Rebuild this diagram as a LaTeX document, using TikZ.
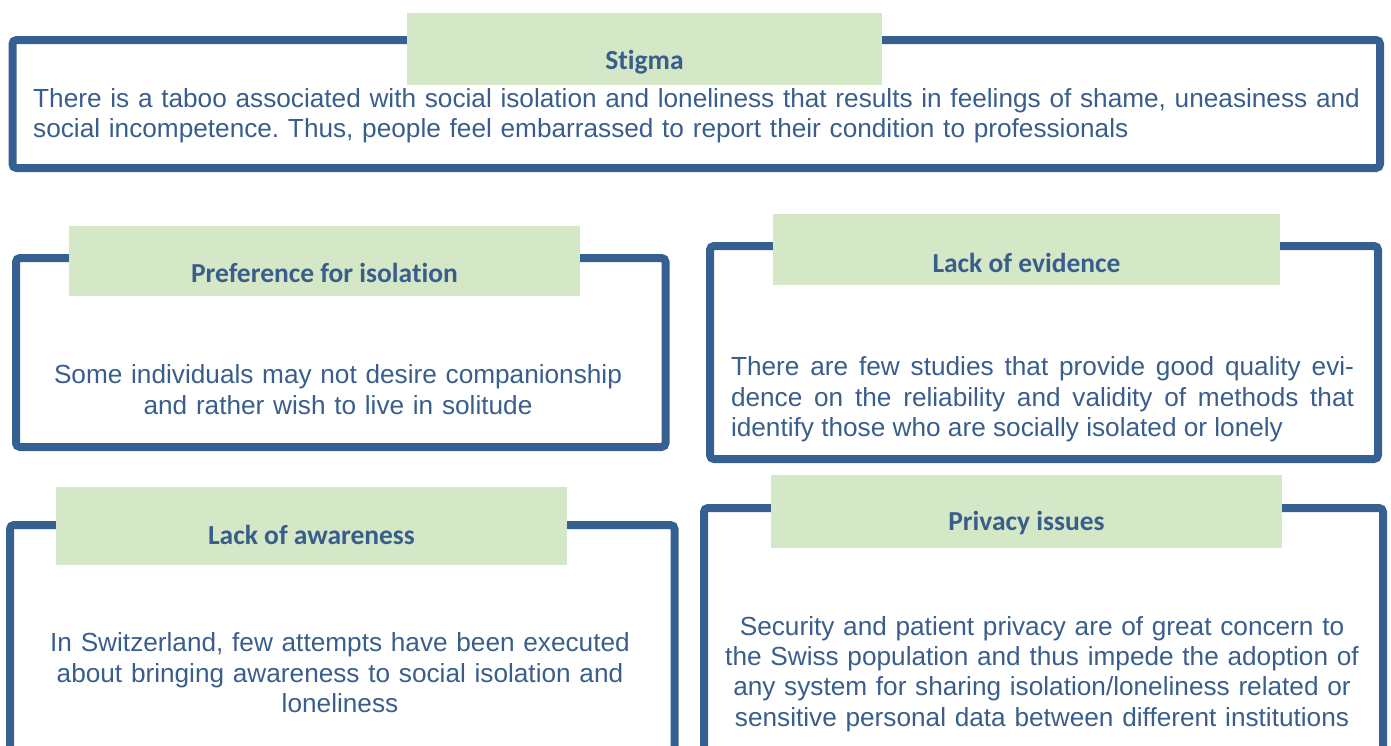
\documentclass[tikz,border=0pt]{standalone}
\usepackage{fontspec}
\setmainfont{Liberation Sans}
\newfontfamily\headfont{Carlito}[Ligatures=NoCommon]

\definecolor{frameblue}{RGB}{55,96,146}
\definecolor{textblue}{RGB}{57,94,140}
\definecolor{taggreen}{RGB}{212,231,199}

% title sits a bit below the middle of its green tag
\newcommand{\tagtitle}[2][12pt]{\raisebox{-#1}[\height][\depth]{#2}}

\tikzset{
  frame/.style={draw=frameblue, line width=8pt, rounded corners=4pt},
  tag/.style={fill=taggreen, inner sep=0pt, text=textblue,
    font=\headfont\bfseries\fontsize{27.5}{30}\selectfont},
  body/.style={text=textblue, inner sep=0pt,
    font=\fontsize{26.2}{30.4}\selectfont\frenchspacing},
}

\begin{document}
\begin{tikzpicture}[x=1pt, y=-1pt]
  \useasboundingbox (0,0) rectangle (1391,745);

  % frames
  \draw [frame] (12.5,40) rectangle (1380,168);
  \draw [frame] (16,258) rectangle (665.5,447);
  \draw [frame] (710,246) rectangle (1378,459);
  \draw [frame] (10,752) |- (674.5,525) -- (674.5,752);
  \draw [frame] (704,752) |- (1383,508) -- (1383,752);

  % green tags
  \node [tag, minimum width=475, minimum height=72] (stigmatag) at (644.5,49) {\tagtitle[13pt]{Stigma}};
  \node [tag, minimum width=511, minimum height=70] (preftag) at (324.5,261) {\tagtitle{Preference for isolation}};
  \node [tag, minimum width=507, minimum height=71] (evidtag) at (1026.5,249.5) {\tagtitle[13pt]{Lack of evidence}};
  \node [tag, minimum width=511, minimum height=78] (awaretag) at (311.5,526) {\tagtitle[9pt]{Lack of awareness}};
  \node [tag, minimum width=511, minimum height=73] (privtag) at (1026.5,511.5) {\tagtitle{Privacy issues}};

  % texts
  \node [body, text width=1345, align=left, anchor=west] (stigmatext) at (33,116)
    {There is a taboo associated with social isolation and loneliness that results in feelings of shame, uneasiness and\\
     social incompetence. Thus, people feel embarrassed to report their condition to professionals};
  \node [body, text width=620, align=center] (preftext) at (338,389.5)
    {Some individuals may not desire companionship\\ and rather wish to live in solitude};
  \node [body, text width=623, align=justify] (evidtext) at (1042.5,399.5)
    {There are few studies that provide good quality evi-\linebreak
     dence on the reliability and validity of methods that\linebreak
     identify those who are socially isolated or lonely};
  \node [body, text width=640, align=center] (awaretext) at (340,673)
    {In Switzerland, few attempts have been executed\\ about bringing awareness to social isolation and\\ loneliness};
  \node [body, text width=670, align=center] (privtext) at (1042,674)
    {Security and patient privacy are of great concern to\\ the Swiss population and thus impede the adoption of\\
     any system for sharing isolation/loneliness related or\\ sensitive personal data between different institutions};
\end{tikzpicture}
\end{document}
